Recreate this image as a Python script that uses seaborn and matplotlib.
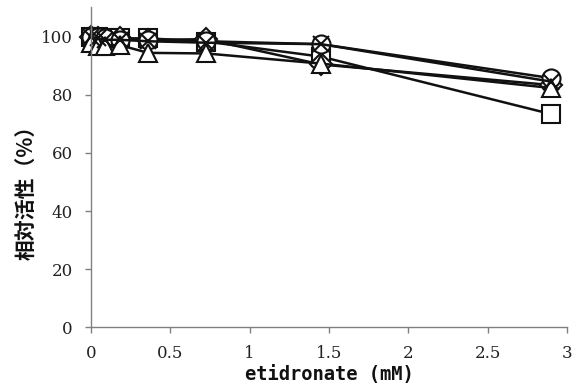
import matplotlib
matplotlib.use("Agg")
import matplotlib.pyplot as plt
import seaborn as sns
import pandas as pd

# etidronate concentrations (mM)
conc = [0, 0.045, 0.09, 0.18, 0.36, 0.725, 1.45, 2.9]

# relative activity (%) for each enzyme series
act_square = [100, 100, 99.5, 99.5, 99.5, 98.4, 93.2, 73.4]
act_diamond = [100, 99.5, 99, 99.5, 99, 99.2, 90.5, 83.4]
act_circle = [100, 100, 99.5, 99, 99, 98.5, 97.5, 85.8]
act_triangle = [98, 97, 97, 97.2, 94.5, 94.3, 90.8, 82.4]
act_cross = [100, 99.5, 99, 99, 98.5, 98, 97.5, 84.6]

series_names = ["square", "diamond", "circle", "triangle", "cross"]
series_values = [act_square, act_diamond, act_circle, act_triangle, act_cross]
marker_map = {"circle": "o", "cross": "x", "square": "s", "triangle": "^", "diamond": "D"}
size_map = {"circle": 13, "cross": 11, "square": 13, "triangle": 12.5, "diamond": 11}

rows = []
for name, vals in zip(series_names, series_values):
    for c, v in zip(conc, vals):
        rows.append({"conc": c, "activity": v, "series": name})
df = pd.DataFrame(rows)

sns.set_theme(style="white")
plt.rcParams["font.family"] = ["DejaVu Serif"]

fig = plt.figure(figsize=(5.83, 3.89), dpi=100)
ax = fig.add_axes([0.156, 0.159, 0.8166, 0.823])

for name in series_names:
    sub = df[df["series"] == name]
    sns.lineplot(data=sub, x="conc", y="activity", color="#111111",
                 marker=marker_map[name], linewidth=1.8,
                 markersize=size_map[name], markerfacecolor="white",
                 markeredgecolor="#111111", markeredgewidth=1.5,
                 legend=False, ax=ax, clip_on=False)

ax.set_xlim(0, 3)
ax.set_ylim(0, 110.3)
ax.set_xticks([0, 0.5, 1, 1.5, 2, 2.5, 3])
ax.set_xticklabels(["0", "0.5", "1", "1.5", "2", "2.5", "3"])
ax.set_yticks([0, 20, 40, 60, 80, 100])

for side in ["top", "right"]:
    ax.spines[side].set_visible(False)
for side in ["left", "bottom"]:
    ax.spines[side].set_color("#808080")
    ax.spines[side].set_linewidth(1.0)

ax.tick_params(axis="both", which="major", direction="out", length=4.5,
               width=1.0, color="#808080", labelsize=12, labelcolor="#222222",
               bottom=True, left=True, pad=8.5)

ax.set_xlabel("etidronate (mM)", fontsize=13.5, fontweight="bold",
              family=["DejaVu Sans Mono"], color="#111111", labelpad=2)
ax.set_ylabel("相対活性（%）", fontsize=15, fontweight="bold",
              family=["Noto Sans CJK JP", "DejaVu Sans"], color="#111111")
ax.yaxis.set_label_coords(-0.113, 0.4375)

fig.savefig("out.png", dpi=100)
